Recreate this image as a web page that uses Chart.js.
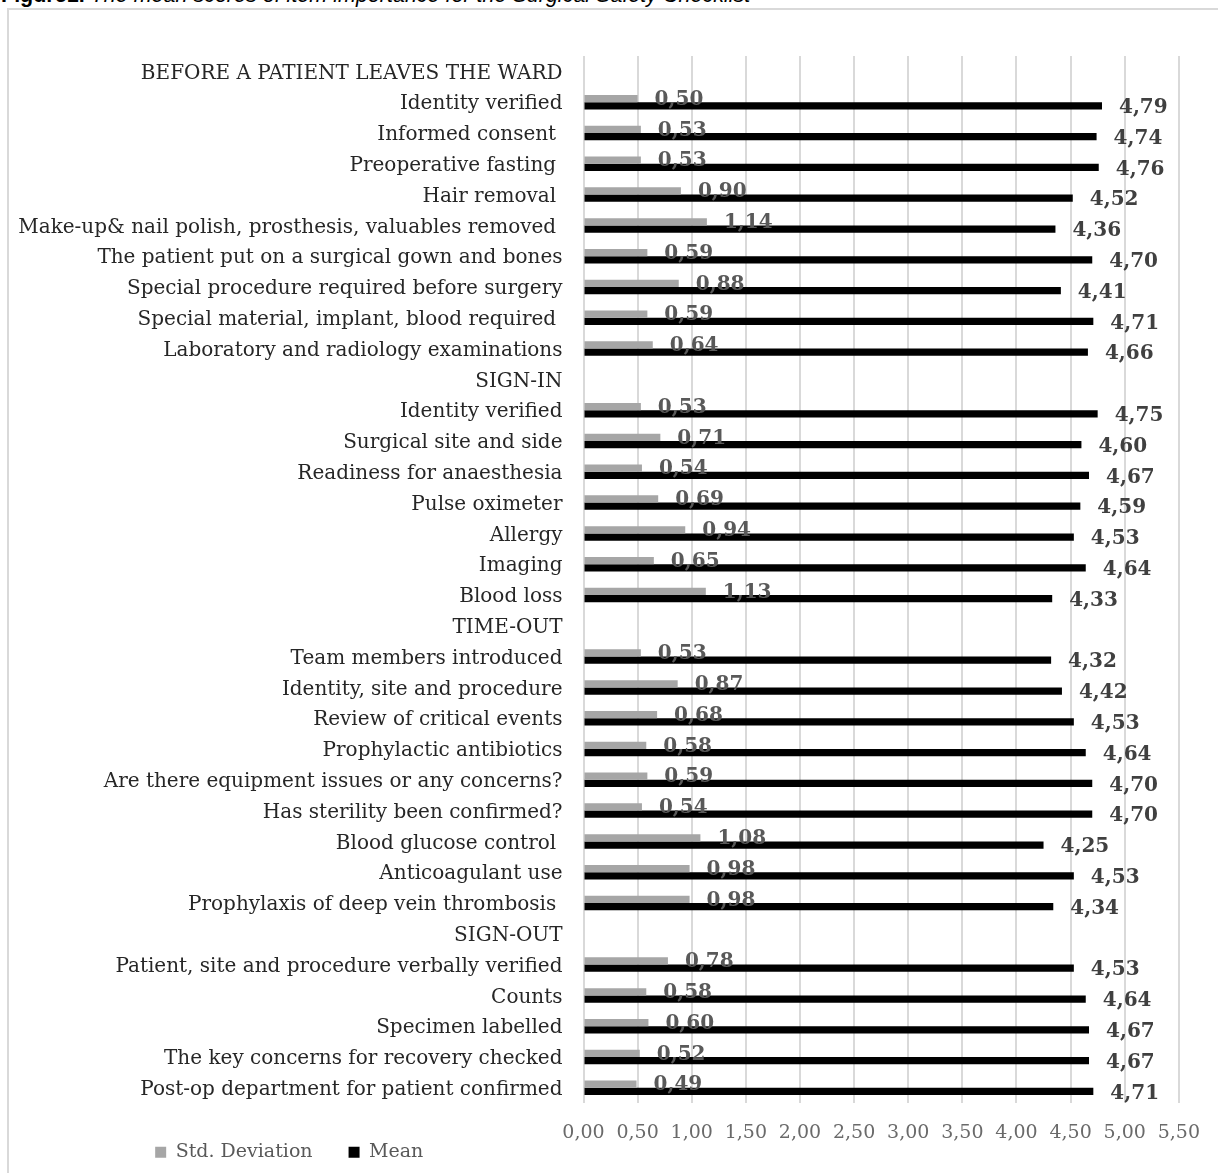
<!DOCTYPE html>
<html>
<head>
<meta charset="utf-8">
<title>Surgical Safety Checklist – item importance</title>
<script src="https://cdn.jsdelivr.net/npm/chart.js@4.4.1/dist/chart.umd.min.js"></script>
<style>
  html, body { margin: 0; padding: 0; background: #ffffff; overflow: hidden; }
  #caption {
    position: absolute; left: 1px; top: -15px; white-space: nowrap;
    font-family: "Liberation Sans", Arial, sans-serif; font-size: 21.5px; line-height: 21.5px; color: #000;
  }
  #frame {
    position: absolute; left: 7px; top: 8px; width: 1400px; height: 1400px;
    border-left: 2px solid #d9d9d9; border-top: 2px solid #d9d9d9;
  }
  #chart { position: absolute; left: 0; top: 0; }
</style>
</head>
<body>
<div id="caption"><b>Figure1.</b> <i>The mean scores of item importance for the Surgical Safety Checklist</i></div>
<div id="frame"></div>
<canvas id="chart" width="1218" height="1173"></canvas>
<script>
// Checklist items, grouped by phase (phase headings carry no values)
const items = [
  "BEFORE A PATIENT LEAVES THE WARD",
  "Identity verified",
  "Informed consent ",
  "Preoperative fasting ",
  "Hair removal ",
  "Make-up& nail polish, prosthesis, valuables removed ",
  "The patient put on a surgical gown and bones",
  "Special procedure required before surgery",
  "Special material, implant, blood required ",
  "Laboratory and radiology examinations",
  "SIGN-IN",
  "Identity verified",
  "Surgical site and side",
  "Readiness for anaesthesia",
  "Pulse oximeter",
  "Allergy",
  "Imaging",
  "Blood loss",
  "TIME-OUT",
  "Team members introduced",
  "Identity, site and procedure",
  "Review of critical events",
  "Prophylactic antibiotics",
  "Are there equipment issues or any concerns?",
  "Has sterility been confirmed?",
  "Blood glucose control ",
  "Anticoagulant use",
  "Prophylaxis of deep vein thrombosis ",
  "SIGN-OUT",
  "Patient, site and procedure verbally verified",
  "Counts",
  "Specimen labelled",
  "The key concerns for recovery checked",
  "Post-op department for patient confirmed"
];

const stdDeviation = [
  null, 0.50, 0.53, 0.53, 0.90, 1.14, 0.59, 0.88, 0.59, 0.64,
  null, 0.53, 0.71, 0.54, 0.69, 0.94, 0.65, 1.13,
  null, 0.53, 0.87, 0.68, 0.58, 0.59, 0.54, 1.08, 0.98, 0.98,
  null, 0.78, 0.58, 0.60, 0.52, 0.49
];

const meanScore = [
  null, 4.79, 4.74, 4.76, 4.52, 4.36, 4.70, 4.41, 4.71, 4.66,
  null, 4.75, 4.60, 4.67, 4.59, 4.53, 4.64, 4.33,
  null, 4.32, 4.42, 4.53, 4.64, 4.70, 4.70, 4.25, 4.53, 4.34,
  null, 4.53, 4.64, 4.67, 4.67, 4.71
];

const seriesNames = ["Std. Deviation", "Mean"];
const axisMin = 0, axisMax = 5.5, axisStep = 0.5;

const serif = '"DejaVu Serif", "Liberation Serif", serif';
const fmt = v => v.toFixed(2).replace('.', ',');

// Writes each bar's value just past its end, centred on the bar
const valueLabels = {
  id: 'valueLabels',
  afterDatasetsDraw(chart, args, opts) {
    const ctx = chart.ctx;
    chart.data.datasets.forEach((ds, di) => {
      const meta = chart.getDatasetMeta(di);
      if (meta.hidden) return;
      meta.data.forEach((bar, i) => {
        const v = ds.data[i];
        if (v === null || v === undefined) return;
        ctx.save();
        ctx.font = 'bold 20px ' + serif;
        ctx.fillStyle = opts.colors[di];
        ctx.textAlign = 'left';
        ctx.textBaseline = 'middle';
        ctx.fillText(fmt(v), bar.x + opts.offset, bar.y + opts.lift[di]);
        ctx.restore();
      });
    });
  }
};

// Sits the legend under the column of item names, below the value axis labels
const legendUnderNames = {
  id: 'legendUnderNames',
  afterLayout(chart, args, opts) {
    const lg = chart.legend, y = chart.scales.y;
    if (!lg || !y) return;
    const pad = lg.options.labels.padding;
    const size = lg.options.labels.font.size;
    lg.left = y.left;
    lg.right = chart.chartArea.left - 13;
    lg.top = chart.chartArea.bottom + opts.drop - pad - size / 2;
    lg.bottom = chart.height;
  }
};

new Chart(document.getElementById('chart'), {
  type: 'bar',
  data: {
    labels: items,
    datasets: [
      {
        label: seriesNames[0],
        data: stdDeviation,
        backgroundColor: '#a6a6a6',
        categoryPercentage: 0.47,
        barPercentage: 1.0
      },
      {
        label: seriesNames[1],
        data: meanScore,
        backgroundColor: '#000000',
        categoryPercentage: 0.47,
        barPercentage: 1.0
      }
    ]
  },
  options: {
    indexAxis: 'y',
    responsive: false,
    animation: false,
    devicePixelRatio: 1,
    layout: { padding: { left: 8, right: 39, top: 56, bottom: 0 } },
    scales: {
      x: {
        min: axisMin,
        max: axisMax,
        border: { display: false },
        grid: { color: '#d9d9d9', lineWidth: 2, drawTicks: false },
        ticks: {
          stepSize: axisStep,
          padding: 18,
          maxRotation: 0,
          color: '#6a6a6a',
          font: { family: serif, size: 19 },
          callback: v => fmt(v)
        }
      },
      y: {
        border: { display: false },
        grid: { display: false, drawTicks: false },
        ticks: {
          autoSkip: false,
          padding: 21,
          labelOffset: 2,
          color: '#262626',
          font: { family: serif, size: 20 }
        },
        afterFit: s => { s.width = 575.5; }
      }
    },
    plugins: {
      legend: {
        position: 'bottom',
        align: 'center',
        maxHeight: 11,
        labels: {
          boxWidth: 11,
          boxHeight: 11,
          padding: 36,
          color: '#595959',
          font: { family: serif, size: 19 }
        }
      },
      legendUnderNames: { drop: 49 },
      tooltip: { enabled: false },
      valueLabels: { offset: 17, colors: ['#595959', '#404040'], lift: [1, 2] }
    }
  },
  plugins: [valueLabels, legendUnderNames]
});
</script>
</body>
</html>
